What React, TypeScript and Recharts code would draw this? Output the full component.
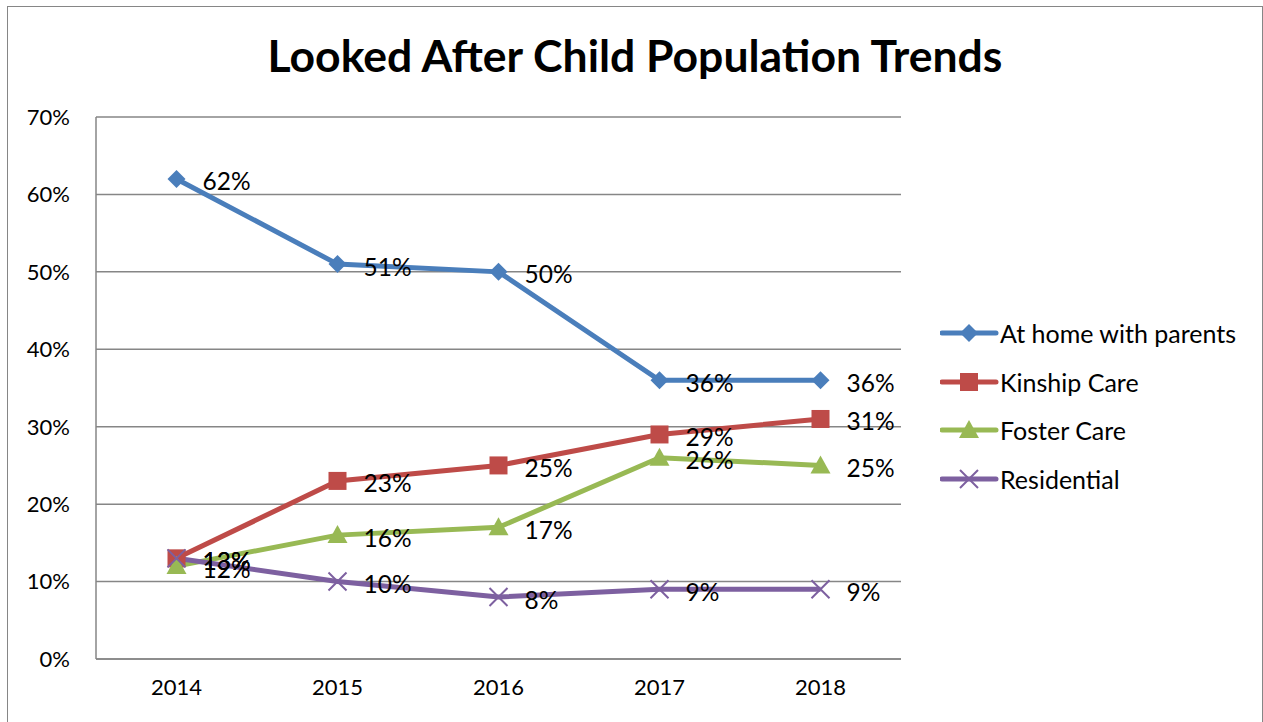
import { LineChart, Line, XAxis, YAxis, CartesianGrid, Legend } from 'recharts'

const years = ['2014', '2015', '2016', '2017', '2018']
const atHome = [62, 51, 50, 36, 36]
const kinship = [13, 23, 25, 29, 31]
const foster = [12, 16, 17, 26, 25]
const residential = [13, 10, 8, 9, 9]
const yTicks = [0, 10, 20, 30, 40, 50, 60, 70]

const seriesList = [
  { key: 'home', name: 'At home with parents', color: '#4A7EBB', shape: 'diamond' },
  { key: 'kinship', name: 'Kinship Care', color: '#BE4B48', shape: 'square' },
  { key: 'foster', name: 'Foster Care', color: '#98B954', shape: 'triangle' },
  { key: 'residential', name: 'Residential', color: '#7D60A0', shape: 'cross' },
]

const data = years.map((y, i) => ({
  year: y,
  home: atHome[i],
  kinship: kinship[i],
  foster: foster[i],
  residential: residential[i],
}))

const FONT = 'Lato, "Liberation Sans", sans-serif'

function Marker({ cx, cy, shape, color }: { cx: number; cy: number; shape: string; color: string }) {
  if (shape === 'diamond') {
    const r = 9
    return <path d={`M${cx},${cy - r}L${cx + r},${cy}L${cx},${cy + r}L${cx - r},${cy}Z`} fill={color} />
  }
  if (shape === 'square') {
    const r = 9
    return <rect x={cx - r} y={cy - r} width={r * 2} height={r * 2} fill={color} />
  }
  if (shape === 'triangle') {
    const r = 10
    return <path d={`M${cx},${cy - r}L${cx + r},${cy + r * 0.8}L${cx - r},${cy + r * 0.8}Z`} fill={color} />
  }
  const r = 9
  return (
    <path
      d={`M${cx - r},${cy - r}L${cx + r},${cy + r}M${cx + r},${cy - r}L${cx - r},${cy + r}`}
      stroke={color}
      strokeWidth={2}
      fill="none"
    />
  )
}

function makeDot(shape: string, color: string) {
  return (props: any) => {
    const { cx, cy, index } = props
    if (cx == null || cy == null) return <g key={index} />
    return (
      <g key={index}>
        <Marker cx={cx} cy={cy} shape={shape} color={color} />
      </g>
    )
  }
}

function renderLabel(props: any) {
  const { x, y, value, index } = props
  return (
    <text
      key={index}
      x={x + 26}
      y={y + 2}
      fontSize={24.5}
      fontFamily={FONT}
      fill="#000"
      textAnchor="start"
      dominantBaseline="central"
    >
      {value}%
    </text>
  )
}

function LegendContent() {
  return (
    <div style={{ fontFamily: FONT, fontSize: 25, color: '#000' }}>
      {seriesList.map((s) => (
        <div key={s.key} style={{ display: 'flex', alignItems: 'center', height: 48.5 }}>
          <svg width={60} height={24} style={{ display: 'block' }}>
            <line x1={2} y1={12} x2={56} y2={12} stroke={s.color} strokeWidth={5} strokeLinecap="round" />
            <Marker cx={29} cy={12} shape={s.shape} color={s.color} />
          </svg>
          <span style={{ whiteSpace: 'nowrap' }}>{s.name}</span>
        </div>
      ))}
    </div>
  )
}

export default function App() {
  return (
    <div style={{ position: 'absolute', left: 0, top: 0, width: 1263, height: 722, overflow: 'hidden', background: '#fff' }}>
      <div
        style={{
          position: 'absolute',
          left: 7,
          top: 6,
          width: 1254,
          height: 740,
          border: '1px solid #868686',
        }}
      />
      <div
        style={{
          position: 'absolute',
          left: 0,
          top: 28,
          width: 1270,
          textAlign: 'center',
          fontFamily: FONT,
          fontWeight: 'bold',
          fontSize: 44.5,
          color: '#000',
        }}
      >
        Looked After Child Population Trends
      </div>
      <div style={{ position: 'absolute', left: 0, top: 0 }}>
        <LineChart width={1263} height={722} data={data} margin={{ top: 117, right: 362, bottom: 33, left: 36 }}>
          <CartesianGrid vertical={false} stroke="#868686" strokeWidth={1.5} />
          <XAxis
            dataKey="year"
            height={30}
            padding={{ left: 80.5, right: 80.5 }}
            axisLine={{ stroke: '#868686', strokeWidth: 1.5 }}
            tickLine={false}
            tick={{ fontSize: 22, fontFamily: FONT, fill: '#000' }}
            tickMargin={14}
          />
          <YAxis
            width={60}
            domain={[0, 70]}
            ticks={yTicks}
            tickFormatter={(v) => `${v}%`}
            axisLine={{ stroke: '#868686', strokeWidth: 1.5 }}
            tickLine={false}
            tick={{ fontSize: 22, fontFamily: FONT, fill: '#000' }}
            tickMargin={20}
          />
          <Legend
            layout="vertical"
            align="center"
            verticalAlign="middle"
            content={<LegendContent />}
            wrapperStyle={{ left: 940, top: 309, width: 323 }}
          />
          {seriesList.map((s) => (
            <Line
              key={s.key}
              type="linear"
              dataKey={s.key}
              name={s.name}
              stroke={s.color}
              strokeWidth={5}
              dot={makeDot(s.shape, s.color)}
              activeDot={false}
              label={renderLabel}
              isAnimationActive={false}
            />
          ))}
        </LineChart>
      </div>
    </div>
  )
}
